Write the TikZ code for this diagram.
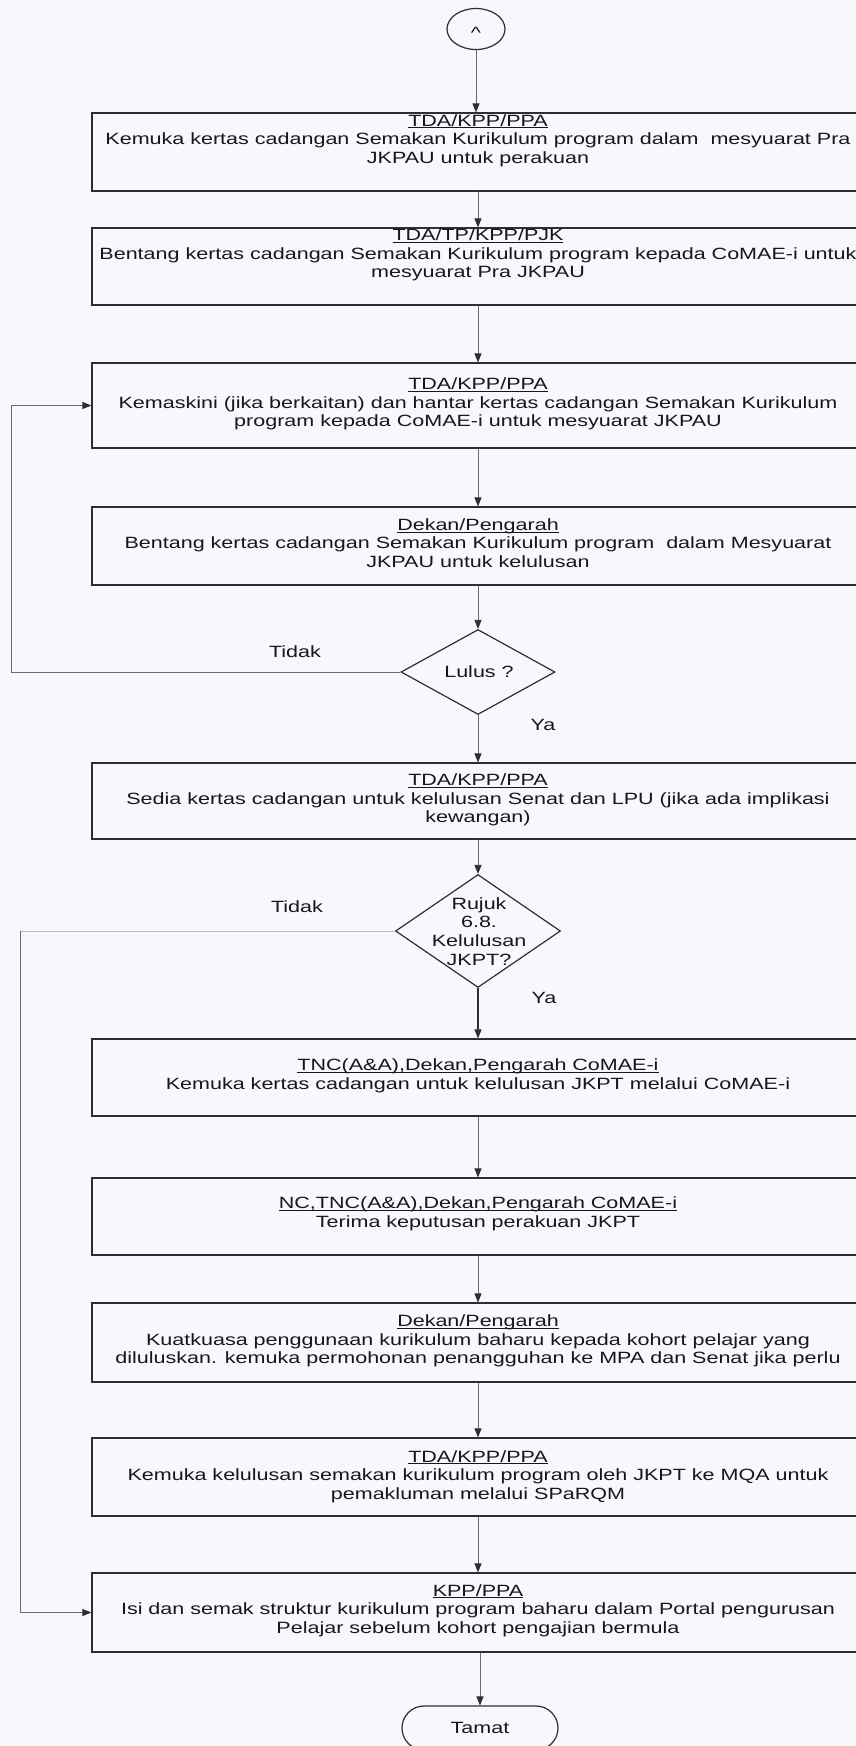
\documentclass[tikz,border=0pt]{standalone}
\usepackage{fontspec}
\setmainfont{Liberation Sans}[FakeStretch=1.32]
\usetikzlibrary{shapes.geometric,arrows.meta}
\definecolor{bg}{RGB}{247,248,251}
\definecolor{ln}{RGB}{45,45,50}
\definecolor{ar}{RGB}{105,105,110}
\definecolor{tx}{RGB}{22,22,28}
\newcommand\ttl[1]{\leavevmode\setbox0=\hbox{#1}\rlap{\rule[-2.3pt]{\wd0}{0.9pt}}\box0}
\begin{document}
\begin{tikzpicture}[x=1pt,y=-1pt,
  box/.style={draw=ln, line width=1.2pt, rectangle, minimum width=772pt, minimum height=#1, inner sep=0pt},
  txt/.style={align=center, inner sep=0pt, text=tx, font=\fontsize{16.3pt}{18.7pt}\selectfont},
  lbl/.style={inner sep=0pt, text=tx, font=\fontsize{16.3pt}{18.7pt}\selectfont},
  arr/.style={draw=ar, line width=0.8pt, -{Triangle[length=9pt,width=7pt,color=ln]}},
  dia/.style={draw=ln, line width=1.2pt, diamond, inner sep=0pt, minimum width=#1},
]
\fill[bg] (0,0) rectangle (856,1746);
\useasboundingbox (0,0) rectangle (856,1746);

% start connector
\node[draw=ln, line width=1.2pt, ellipse, minimum width=58pt, minimum height=41pt, inner sep=0pt] (st) at (476,29) {};
\node[lbl] (stt) at (476,33) {\textasciicircum};

% boxes
\node[box=78pt]  (b1)  at (478,152)   {};
\node[box=77pt]  (b2)  at (478,266.5) {};
\node[box=85pt]  (b3)  at (478,405.5) {};
\node[box=78pt]  (b4)  at (478,546)   {};
\node[box=76pt]  (b5)  at (478,801)   {};
\node[box=77pt]  (b6)  at (478,1077.5){};
\node[box=77pt]  (b7)  at (478,1216.5){};
\node[box=79pt]  (b8)  at (478,1342.5){};
\node[box=78pt]  (b9)  at (478,1477)  {};
\node[box=79pt]  (b10) at (478,1612.5){};

% box texts
\node[txt] (t1) at (478,140.5) {\ttl{TDA/KPP/PPA}\\Kemuka kertas cadangan Semakan Kurikulum program dalam\ \ mesyuarat Pra\\JKPAU untuk perakuan};
\node[txt] (t2) at (478,255) {\ttl{TDA/TP/KPP/PJK}\\Bentang kertas cadangan Semakan Kurikulum program kepada CoMAE-i untuk\\mesyuarat Pra JKPAU};
\node[txt] (t3) at (478,404) {\ttl{TDA/KPP/PPA}\\Kemaskini (jika berkaitan) dan hantar kertas cadangan Semakan Kurikulum\\program kepada CoMAE-i untuk mesyuarat JKPAU};
\node[txt] (t4) at (478,543) {\ttl{Dekan/Pengarah}\\Bentang kertas cadangan Semakan Kurikulum program\ \ dalam Mesyuarat\\JKPAU untuk kelulusan};
\node[txt] (t5) at (478,800) {\ttl{TDA/KPP/PPA}\\Sedia kertas cadangan untuk kelulusan Senat dan LPU (jika ada implikasi\\kewangan)};
\node[txt] (t6) at (478,1075.5) {\ttl{TNC(A\&A),Dekan,Pengarah CoMAE-i}\\Kemuka kertas cadangan untuk kelulusan JKPT melalui CoMAE-i};
\node[txt] (t7) at (478,1214) {\ttl{NC,TNC(A\&A),Dekan,Pengarah CoMAE-i}\\Terima keputusan perakuan JKPT};
\node[txt] (t8) at (478,1341) {\ttl{Dekan/Pengarah}\\Kuatkuasa penggunaan kurikulum baharu kepada kohort pelajar yang\\diluluskan. kemuka permohonan penangguhan ke MPA dan Senat jika perlu};
\node[txt] (t9) at (478,1476.5) {\ttl{TDA/KPP/PPA}\\Kemuka kelulusan semakan kurikulum program oleh JKPT ke MQA untuk\\pemakluman melalui SPaRQM};
\node[txt] (t10) at (478,1610.5) {\ttl{KPP/PPA}\\Isi dan semak struktur kurikulum program baharu dalam Portal pengurusan\\Pelajar sebelum kohort pengajian bermula};

% decisions
\node[dia=154pt, minimum height=85pt] (d1) at (478,672) {};
\node[lbl] (d1t) at (479,672) {Lulus ?};
\node[dia=165pt, minimum height=113pt] (d2) at (478,931) {};
\node[txt] (d2t) at (479,931.5) {Rujuk\\6.8.\\Kelulusan\\JKPT?};

% end
\node[draw=ln, line width=1.2pt, rectangle, rounded corners=22pt, minimum width=156pt, minimum height=44pt, inner sep=0pt] (end) at (480,1728) {};
\node[lbl] (endt) at (480,1728) {Tamat};

% labels
\node[lbl] (l1) at (295,652) {Tidak};
\node[lbl] (l2) at (543,725) {Ya};
\node[lbl] (l3) at (297,907) {Tidak};
\node[lbl] (l4) at (544,998) {Ya};

% connectors
\draw[arr] (st.south) -- (st.south |- b1.north);
\draw[arr] (b1) -- (b2);
\draw[arr] (b2) -- (b3);
\draw[arr] (b3) -- (b4);
\draw[arr] (b4) -- (d1);
\draw[arr] (d1) -- (b5);
\draw[arr] (b5) -- (d2);
\draw[arr, draw=ln, line width=1.1pt] (d2) -- (b6);
\draw[arr] (b6) -- (b7);
\draw[arr] (b7) -- (b8);
\draw[arr] (b8) -- (b9);
\draw[arr] (b9) -- (b10);
\draw[arr] (b10.south -| end.north) -- (end.north);

\coordinate (c1) at (11,672);
\draw[arr] (d1.west) -- (c1) |- (b3.west);
\coordinate (c2) at (20,931);
\draw[draw=ar!45, line width=0.8pt] (d2.west) -- (c2);
\draw[arr] (c2) |- (b10.west);
\end{tikzpicture}
\end{document}
